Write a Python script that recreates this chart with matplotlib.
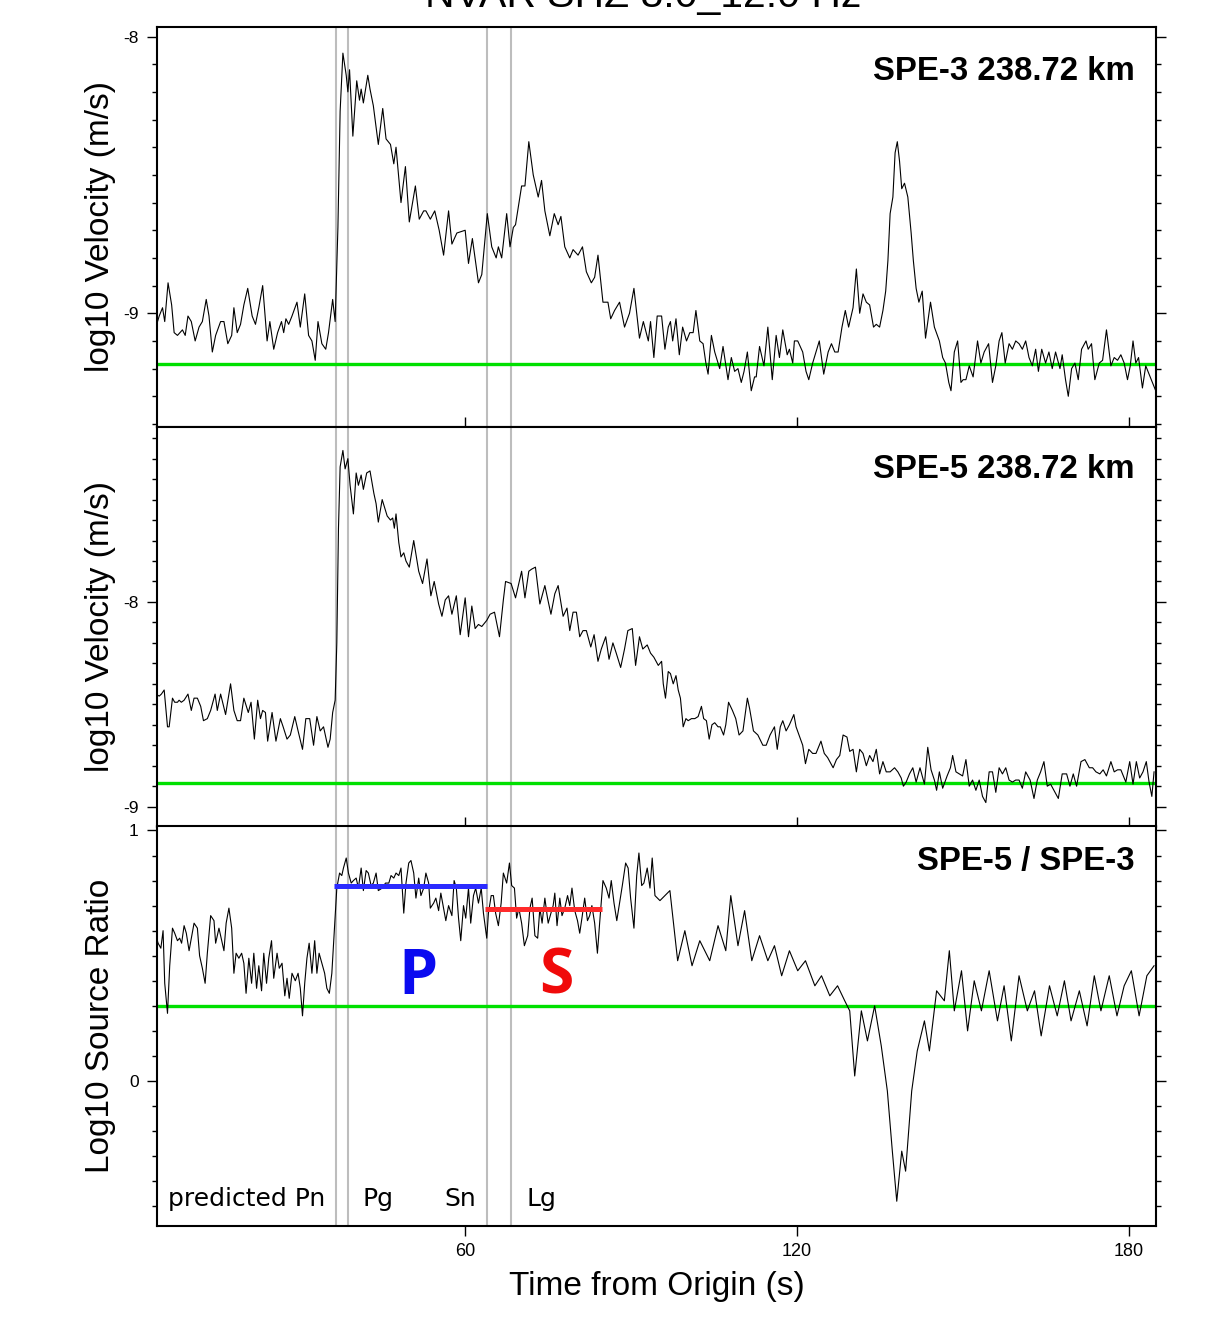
import numpy as np
import matplotlib
matplotlib.use('Agg')
import matplotlib.pyplot as plt
from matplotlib import font_manager
from matplotlib.ticker import MultipleLocator, FixedLocator

plt.rcParams['axes.unicode_minus'] = False

_names = {f.name for f in font_manager.fontManager.ttflist}
BOLD_FONT = 'Open Sans' if 'Open Sans' in _names else 'DejaVu Sans'
SANS = 'Liberation Sans'

# ---- data ---------------------------------------------------------------
TITLE = 'NVAR SHZ 8.0_12.0 Hz'
PANEL_LABELS = ['SPE-3 238.72 km', 'SPE-5 238.72 km', 'SPE-5 / SPE-3']
YLABELS = ['log10 Velocity (m/s)', 'log10 Velocity (m/s)', 'Log10 Source Ratio']
XLABEL = 'Time from Origin (s)'

PHASE_TIMES = [36.6, 38.9, 63.9, 68.25]          # grey marker lines (s)
PHASE_NAMES = ['predicted Pn', 'Pg', 'Sn', 'Lg']
PHASE_NAME_T = [6.3, 41.5, 56.3, 71.0]
PHASE_NAME_Y = -0.50

NOISE_LEVEL = [-9.185, -8.883, 0.30]              # green lines
P_WINDOW = [36.3, 63.9]
P_RATIO = 0.78
S_WINDOW = [63.6, 84.7]
S_RATIO = 0.687
P_LABEL_T, S_LABEL_T, PS_LABEL_Y = 51.5, 76.4, 0.348

XLIM = (4.35, 184.8)
XTICKS = [60, 120, 180]
YLIMS = [(-9.41, -7.966), (-9.098, -7.146), (-0.579, 1.016)]
YTICKS = [[-9, -8], [-9, -8], [0, 1]]

# (time s, log10 velocity) SPE-3
SPE3 = np.array([
    (4.1, -9.05), (4.7, -9.01), (5.3, -8.98), (5.7, -9.03), (6.3, -8.89), (6.95, -8.97),
    (7.4, -9.07), (8.0, -9.08), (8.9, -9.06), (9.4, -9.08), (9.9, -9.01), (10.5, -9.03),
    (11.2, -9.10), (11.9, -9.05), (12.5, -9.03), (13.2, -8.95), (13.7, -9.01), (14.3, -9.14),
    (14.9, -9.08), (15.8, -9.03), (16.4, -9.03), (17.1, -9.11), (17.8, -9.08), (18.2, -8.98),
    (18.8, -9.07), (19.4, -9.04), (20.0, -8.97), (20.7, -8.91), (21.5, -9.01), (22.1, -9.04),
    (22.7, -8.98), (23.4, -8.90), (24.2, -9.10), (24.7, -9.03), (25.4, -9.13), (26.1, -9.07),
    (26.8, -9.03), (27.2, -9.07), (27.6, -9.02), (28.1, -9.04), (28.7, -9.01), (29.6, -8.96),
    (30.2, -9.05), (31.0, -8.93), (31.7, -9.08), (32.3, -9.10), (32.9, -9.17), (33.4, -9.03),
    (34.1, -9.11), (34.8, -9.13), (35.3, -9.07), (36.05, -8.95), (36.5, -9.03), (37.0, -8.69),
    (37.4, -8.27), (37.9, -8.06), (38.5, -8.14), (38.8, -8.20), (39.1, -8.12), (39.7, -8.36),
    (40.4, -8.16), (40.9, -8.23), (41.2, -8.19), (41.6, -8.24), (42.4, -8.14), (42.8, -8.19),
    (43.4, -8.25), (44.3, -8.39), (45.1, -8.26), (45.7, -8.37), (46.5, -8.39), (47.1, -8.46),
    (47.5, -8.40), (48.4, -8.60), (49.2, -8.47), (49.9, -8.67), (51.0, -8.54), (51.7, -8.66),
    (52.5, -8.63), (52.9, -8.63), (53.7, -8.66), (54.5, -8.63), (55.3, -8.70), (56.1, -8.79),
    (57.0, -8.63), (57.6, -8.75), (58.5, -8.71), (60.0, -8.70), (60.6, -8.82), (61.3, -8.73),
    (62.4, -8.89), (63.0, -8.86), (64.0, -8.64), (64.8, -8.76), (65.6, -8.80), (66.0, -8.76),
    (66.6, -8.80), (67.5, -8.64), (68.1, -8.76), (68.7, -8.69), (69.1, -8.68), (70.2, -8.54),
    (70.8, -8.54), (71.5, -8.38), (72.3, -8.50), (73.2, -8.58), (73.8, -8.52), (74.4, -8.63),
    (75.3, -8.72), (76.1, -8.64), (76.8, -8.68), (77.3, -8.65), (78.0, -8.76), (78.9, -8.80),
    (79.5, -8.77), (80.4, -8.79), (81.2, -8.76), (81.9, -8.85), (82.8, -8.89), (83.4, -8.87),
    (84.0, -8.79), (84.9, -8.96), (85.8, -8.96), (86.3, -9.02), (87.0, -8.99), (87.9, -8.96),
    (88.8, -9.05), (89.7, -9.00), (90.5, -8.91), (91.5, -9.09), (92.2, -9.03), (93.1, -9.10),
    (93.5, -9.03), (94.1, -9.16), (94.7, -9.01), (95.5, -9.01), (96.1, -9.13), (96.7, -9.05),
    (97.1, -9.03), (97.5, -9.10), (98.1, -9.02), (98.7, -9.15), (99.3, -9.05), (100.0, -9.10),
    (100.6, -9.07), (101.2, -9.07), (101.7, -8.99), (102.4, -9.10), (103.0, -9.11), (103.5, -9.18),
    (103.9, -9.22), (104.5, -9.08), (105.1, -9.14), (106.0, -9.20), (106.6, -9.12), (107.5, -9.24),
    (108.1, -9.16), (108.7, -9.21), (109.3, -9.20), (109.9, -9.25), (110.4, -9.21), (111.0, -9.14),
    (111.7, -9.28), (112.3, -9.23), (112.6, -9.23), (113.2, -9.12), (114.0, -9.19), (114.7, -9.05),
    (115.5, -9.24), (116.2, -9.08), (116.8, -9.16), (117.4, -9.06), (118.2, -9.15), (118.6, -9.13),
    (119.2, -9.18), (119.5, -9.10), (120.1, -9.10), (121.0, -9.14), (121.6, -9.21), (122.1, -9.24),
    (122.8, -9.18), (123.4, -9.14), (124.0, -9.10), (124.8, -9.22), (125.6, -9.14), (126.2, -9.11),
    (126.8, -9.14), (127.4, -9.14), (128.1, -9.05), (128.7, -8.99), (129.3, -9.05), (130.1, -8.98),
    (130.7, -8.84), (131.3, -9.00), (131.9, -8.93), (132.5, -8.96), (133.1, -8.97), (133.8, -9.05),
    (134.3, -9.04), (134.9, -9.05), (135.5, -8.99), (136.0, -8.92), (136.4, -8.81), (136.8, -8.64),
    (137.3, -8.58), (137.7, -8.42), (138.1, -8.38), (138.5, -8.45), (138.9, -8.55), (139.4, -8.53),
    (140.0, -8.58), (140.6, -8.71), (141.0, -8.81), (141.5, -8.91), (142.0, -8.96), (142.6, -8.92),
    (143.2, -9.09), (144.1, -8.96), (144.8, -9.05), (145.7, -9.10), (146.3, -9.16), (146.8, -9.18),
    (147.4, -9.25), (147.8, -9.28), (148.4, -9.14), (149.0, -9.10), (149.6, -9.25), (150.0, -9.24),
    (150.5, -9.24), (151.1, -9.19), (151.8, -9.23), (152.6, -9.10), (153.2, -9.18), (153.8, -9.14),
    (154.6, -9.11), (155.3, -9.25), (155.9, -9.19), (156.5, -9.10), (157.0, -9.07), (157.6, -9.18),
    (158.3, -9.11), (158.9, -9.13), (159.5, -9.10), (160.1, -9.11), (160.7, -9.13), (161.3, -9.10),
    (161.9, -9.16), (162.5, -9.19), (163.1, -9.13), (163.6, -9.21), (164.2, -9.13), (164.9, -9.18),
    (165.5, -9.14), (166.1, -9.20), (166.7, -9.14), (167.5, -9.20), (167.9, -9.15), (168.5, -9.24),
    (169.0, -9.30), (169.6, -9.20), (170.2, -9.18), (170.8, -9.24), (171.4, -9.13), (172.2, -9.10),
    (172.6, -9.13), (173.2, -9.11), (173.8, -9.24), (174.6, -9.18), (175.2, -9.17), (175.9, -9.06),
    (176.7, -9.19), (177.3, -9.16), (177.9, -9.17), (178.5, -9.15), (179.1, -9.18), (179.7, -9.24),
    (180.2, -9.19), (180.7, -9.10), (181.2, -9.18), (181.7, -9.16), (182.4, -9.27), (183.0, -9.19),
    (183.6, -9.22), (184.2, -9.25), (184.8, -9.28),
])

# (time s, log10 velocity) SPE-5
SPE5 = np.array([
    (4.1, -8.45), (4.7, -8.46), (5.1, -8.45), (5.6, -8.43), (6.2, -8.61), (6.5, -8.61),
    (7.1, -8.47), (7.5, -8.49), (8.0, -8.49), (8.3, -8.48), (8.7, -8.49), (9.2, -8.48),
    (9.9, -8.45), (10.5, -8.53), (11.0, -8.47), (11.6, -8.47), (12.2, -8.51), (12.7, -8.58),
    (13.4, -8.57), (14.0, -8.53), (14.8, -8.45), (15.2, -8.53), (15.8, -8.45), (16.7, -8.55),
    (17.6, -8.40), (18.2, -8.53), (18.8, -8.58), (19.4, -8.58), (20.0, -8.47), (20.8, -8.54),
    (21.3, -8.49), (21.9, -8.67), (22.5, -8.48), (23.0, -8.57), (23.4, -8.53), (23.9, -8.54),
    (24.3, -8.68), (25.1, -8.54), (25.8, -8.68), (26.6, -8.57), (27.1, -8.61), (27.8, -8.67),
    (28.4, -8.65), (29.2, -8.56), (29.8, -8.63), (30.6, -8.72), (31.2, -8.57), (31.9, -8.57),
    (32.6, -8.70), (33.2, -8.56), (33.8, -8.63), (34.4, -8.61), (35.2, -8.71), (35.6, -8.67),
    (36.05, -8.54), (36.5, -8.48), (36.8, -8.20), (37.1, -7.64), (37.4, -7.34), (37.9, -7.26),
    (38.3, -7.35), (38.8, -7.30), (39.2, -7.43), (39.8, -7.57), (40.3, -7.37), (40.7, -7.43),
    (41.2, -7.38), (41.6, -7.45), (42.2, -7.37), (42.8, -7.36), (43.5, -7.47), (43.9, -7.52),
    (44.3, -7.61), (45.0, -7.50), (45.9, -7.58), (46.5, -7.60), (46.9, -7.59), (47.2, -7.64),
    (47.5, -7.57), (48.0, -7.71), (48.4, -7.78), (48.9, -7.76), (49.3, -7.80), (49.9, -7.83),
    (50.7, -7.70), (51.6, -7.85), (52.3, -7.91), (53.1, -7.79), (53.8, -7.97), (54.4, -7.90),
    (55.2, -8.01), (55.8, -8.07), (56.4, -7.99), (57.0, -7.97), (57.6, -8.06), (58.4, -7.97),
    (59.1, -8.16), (60.0, -7.98), (60.6, -8.17), (61.2, -8.02), (61.8, -8.13), (62.4, -8.11),
    (63.0, -8.12), (63.9, -8.09), (64.5, -8.06), (65.3, -8.05), (66.2, -8.17), (66.9, -7.99),
    (67.3, -7.90), (68.3, -7.91), (69.1, -7.98), (69.6, -7.92), (70.2, -7.85), (70.8, -7.98),
    (71.5, -7.85), (72.0, -7.84), (72.7, -7.83), (73.5, -8.01), (74.4, -7.92), (75.5, -8.06),
    (76.2, -7.96), (76.8, -7.92), (77.7, -8.07), (78.4, -8.03), (78.9, -8.14), (79.5, -8.05),
    (80.1, -8.05), (80.7, -8.17), (81.3, -8.14), (81.9, -8.14), (82.7, -8.22), (83.3, -8.16),
    (84.0, -8.29), (84.6, -8.23), (85.4, -8.17), (86.0, -8.28), (86.7, -8.20), (87.3, -8.25),
    (88.1, -8.32), (88.8, -8.23), (89.4, -8.14), (90.2, -8.13), (90.8, -8.31), (91.5, -8.17),
    (92.1, -8.23), (92.9, -8.21), (93.5, -8.25), (94.1, -8.27), (94.9, -8.31), (95.5, -8.29),
    (95.8, -8.40), (96.2, -8.47), (96.7, -8.34), (97.1, -8.35), (97.6, -8.40), (98.1, -8.36),
    (98.5, -8.43), (98.9, -8.47), (99.4, -8.61), (99.9, -8.57), (100.3, -8.58), (100.9, -8.57),
    (101.5, -8.57), (102.1, -8.56), (102.7, -8.51), (103.1, -8.57), (103.6, -8.58), (104.1, -8.67),
    (104.6, -8.60), (105.1, -8.59), (105.7, -8.61), (106.1, -8.61), (106.7, -8.65), (107.1, -8.60),
    (107.6, -8.49), (108.3, -8.53), (108.9, -8.57), (109.5, -8.65), (110.2, -8.63), (111.0, -8.47),
    (111.4, -8.52), (112.1, -8.63), (112.9, -8.65), (113.8, -8.70), (114.4, -8.70), (115.1, -8.65),
    (115.9, -8.61), (116.4, -8.72), (116.95, -8.61), (117.4, -8.58), (118.0, -8.63), (118.6, -8.60),
    (119.4, -8.55), (119.8, -8.61), (120.6, -8.67), (121.0, -8.70), (121.5, -8.79), (122.1, -8.72),
    (122.8, -8.74), (123.4, -8.74), (124.3, -8.68), (124.9, -8.74), (125.5, -8.76), (126.5, -8.81),
    (127.1, -8.77), (127.7, -8.75), (128.3, -8.65), (129.0, -8.66), (129.5, -8.73), (130.1, -8.72),
    (130.7, -8.83), (131.3, -8.72), (131.9, -8.74), (132.5, -8.80), (133.1, -8.75), (133.7, -8.78),
    (134.3, -8.72), (134.9, -8.84), (135.5, -8.78), (136.1, -8.83), (136.8, -8.83), (137.6, -8.81),
    (138.2, -8.83), (138.8, -8.86), (139.2, -8.90), (139.7, -8.88), (140.3, -8.84), (140.9, -8.81),
    (141.5, -8.88), (142.2, -8.81), (143.0, -8.89), (143.6, -8.71), (144.2, -8.82), (144.8, -8.87),
    (145.2, -8.92), (145.7, -8.83), (146.3, -8.91), (147.1, -8.85), (147.7, -8.81), (148.1, -8.75),
    (148.7, -8.83), (149.3, -8.84), (149.9, -8.85), (150.5, -8.77), (151.1, -8.90), (151.7, -8.87),
    (152.3, -8.92), (152.9, -8.87), (153.5, -8.95), (154.1, -8.98), (154.7, -8.83), (155.3, -8.83),
    (155.9, -8.93), (156.5, -8.81), (157.1, -8.84), (157.7, -8.81), (158.3, -8.87), (158.9, -8.88),
    (159.5, -8.87), (160.1, -8.87), (160.7, -8.91), (161.3, -8.83), (162.1, -8.87), (162.8, -8.96),
    (163.4, -8.87), (164.0, -8.83), (164.6, -8.78), (165.2, -8.90), (165.8, -8.89), (166.4, -8.92),
    (167.2, -8.96), (167.9, -8.84), (168.7, -8.84), (169.3, -8.90), (169.9, -8.84), (170.5, -8.90),
    (171.3, -8.78), (172.0, -8.77), (172.8, -8.81), (173.4, -8.81), (174.0, -8.83), (174.7, -8.84),
    (175.3, -8.82), (175.9, -8.85), (176.7, -8.78), (177.3, -8.83), (177.9, -8.82), (178.5, -8.82),
    (179.4, -8.88), (180.1, -8.78), (180.7, -8.89), (181.3, -8.78), (181.9, -8.86), (182.5, -8.83),
    (183.1, -8.78), (183.6, -8.88), (184.1, -8.95), (184.5, -8.83),
])

# (time s, log10 source ratio) SPE-5 / SPE-3
RATIO = np.array([
    (4.1, 0.58), (4.5, 0.55), (5.0, 0.53), (5.4, 0.60), (5.7, 0.39), (6.2, 0.27),
    (6.6, 0.46), (7.1, 0.61), (7.5, 0.59), (8.0, 0.56), (8.4, 0.57), (8.75, 0.55),
    (9.2, 0.62), (9.6, 0.59), (10.1, 0.52), (10.6, 0.58), (11.0, 0.63), (11.6, 0.61),
    (12.0, 0.50), (12.5, 0.45), (13.0, 0.39), (13.4, 0.51), (14.0, 0.66), (14.6, 0.64),
    (14.9, 0.55), (15.5, 0.61), (15.9, 0.57), (16.4, 0.52), (16.8, 0.63), (17.3, 0.69),
    (17.8, 0.61), (18.2, 0.43), (18.6, 0.51), (19.1, 0.49), (19.6, 0.51), (20.0, 0.47),
    (20.4, 0.35), (20.9, 0.49), (21.4, 0.39), (21.8, 0.51), (22.3, 0.37), (22.7, 0.46),
    (23.2, 0.36), (23.6, 0.51), (24.1, 0.39), (24.5, 0.49), (25.0, 0.56), (25.4, 0.41),
    (26.0, 0.51), (26.4, 0.45), (26.9, 0.47), (27.4, 0.34), (27.8, 0.41), (28.2, 0.33),
    (28.7, 0.43), (29.3, 0.40), (29.8, 0.43), (30.2, 0.37), (30.6, 0.26), (31.0, 0.39),
    (31.4, 0.49), (31.8, 0.55), (32.3, 0.43), (32.8, 0.56), (33.2, 0.43), (33.6, 0.51),
    (34.1, 0.47), (34.6, 0.43), (35.0, 0.37), (35.45, 0.35), (35.9, 0.43), (36.4, 0.62),
    (36.8, 0.77), (37.3, 0.83), (37.7, 0.82), (38.0, 0.85), (38.5, 0.89), (38.9, 0.83),
    (39.4, 0.79), (39.8, 0.80), (40.3, 0.81), (40.7, 0.77), (41.2, 0.85), (41.6, 0.76),
    (42.1, 0.84), (42.5, 0.83), (43.0, 0.78), (43.4, 0.79), (43.9, 0.83), (44.3, 0.76),
    (45.0, 0.77), (45.6, 0.79), (46.2, 0.79), (46.6, 0.82), (47.1, 0.81), (47.5, 0.83),
    (48.0, 0.82), (48.4, 0.85), (48.9, 0.67), (49.3, 0.79), (49.8, 0.87), (50.2, 0.88),
    (50.7, 0.83), (51.1, 0.73), (51.6, 0.81), (52.0, 0.74), (52.5, 0.77), (52.9, 0.83),
    (53.4, 0.79), (53.7, 0.69), (54.3, 0.71), (54.7, 0.73), (55.2, 0.68), (55.6, 0.75),
    (56.1, 0.69), (56.5, 0.64), (57.0, 0.70), (57.6, 0.66), (58.0, 0.80), (58.4, 0.77),
    (58.8, 0.65), (59.2, 0.56), (59.7, 0.70), (60.1, 0.65), (60.6, 0.77), (61.0, 0.63),
    (61.5, 0.74), (61.9, 0.77), (62.4, 0.71), (62.9, 0.77), (63.3, 0.67), (63.6, 0.62),
    (63.9, 0.57), (64.2, 0.67), (64.7, 0.74), (65.1, 0.74), (65.5, 0.67), (66.0, 0.62),
    (66.5, 0.71), (66.9, 0.83), (67.5, 0.79), (68.0, 0.87), (68.4, 0.78), (68.9, 0.77),
    (69.3, 0.65), (69.7, 0.69), (70.2, 0.63), (70.7, 0.54), (71.3, 0.58), (71.7, 0.69),
    (72.1, 0.73), (72.6, 0.58), (73.1, 0.57), (73.5, 0.69), (73.9, 0.63), (74.4, 0.73),
    (75.0, 0.63), (75.5, 0.67), (75.9, 0.70), (76.2, 0.75), (76.6, 0.62), (77.1, 0.73),
    (77.5, 0.66), (78.0, 0.69), (78.5, 0.74), (78.9, 0.70), (79.3, 0.77), (79.8, 0.68),
    (80.3, 0.64), (80.7, 0.59), (81.1, 0.65), (81.6, 0.73), (82.1, 0.64), (82.5, 0.66),
    (82.9, 0.70), (83.4, 0.63), (83.9, 0.51), (84.3, 0.63), (84.9, 0.80), (85.5, 0.77),
    (86.0, 0.73), (86.4, 0.80), (86.9, 0.71), (87.4, 0.64), (87.9, 0.71), (88.4, 0.78),
    (89.0, 0.87), (89.45, 0.85), (89.9, 0.73), (90.5, 0.61), (91.0, 0.82), (91.4, 0.91),
    (91.9, 0.78), (92.3, 0.79), (92.9, 0.85), (93.4, 0.77), (93.8, 0.89), (94.3, 0.74),
    (95.2, 0.72), (97.0, 0.76), (98.4, 0.48), (99.7, 0.60), (101.0, 0.46), (102.4, 0.56),
    (104.2, 0.48), (105.7, 0.62), (107.1, 0.52), (108.0, 0.74), (109.3, 0.54), (110.5, 0.68),
    (111.8, 0.48), (113.2, 0.58), (114.7, 0.48), (115.9, 0.54), (117.2, 0.42), (118.6, 0.52),
    (120.1, 0.44), (121.5, 0.48), (123.2, 0.38), (124.4, 0.42), (125.9, 0.34), (127.3, 0.38),
    (128.6, 0.32), (129.5, 0.28), (130.4, 0.02), (131.6, 0.28), (132.7, 0.16), (134.0, 0.30),
    (135.2, 0.14), (136.3, -0.04), (137.2, -0.28), (138.0, -0.48), (138.9, -0.28), (139.6, -0.36),
    (140.7, -0.04), (141.7, 0.12), (143.0, 0.24), (143.9, 0.12), (145.2, 0.36), (146.6, 0.32),
    (147.5, 0.52), (148.4, 0.28), (149.7, 0.44), (150.8, 0.20), (152.0, 0.40), (153.3, 0.28),
    (154.7, 0.44), (156.2, 0.24), (157.4, 0.38), (158.7, 0.16), (160.1, 0.42), (161.6, 0.28),
    (162.9, 0.36), (164.1, 0.18), (165.6, 0.38), (167.0, 0.26), (168.3, 0.40), (169.5, 0.24),
    (171.0, 0.36), (172.4, 0.22), (173.7, 0.42), (174.9, 0.28), (176.4, 0.42), (177.8, 0.26),
    (179.1, 0.38), (180.4, 0.44), (181.8, 0.26), (183.2, 0.42), (184.5, 0.46),
])

TRACES = [SPE3, SPE5, RATIO]

# ---- layout --------------------------------------------------------------
fig = plt.figure(figsize=(12.06, 13.36), dpi=100)
left, width = 0.1304, 0.8279
bottoms = [0.6806, 0.3812, 0.0823]
height = 0.2991

axes = []
for i in range(3):
    ax = fig.add_axes([left, bottoms[i], width, height])
    axes.append(ax)
    tr = TRACES[i]

    for t in PHASE_TIMES:
        ax.axvline(t, color='#bdbdbd', lw=1.5, zorder=1)
    ax.axhline(NOISE_LEVEL[i], color='#00e000', lw=2.4, zorder=2)
    ax.plot(tr[:, 0], tr[:, 1], color='black', lw=0.8, zorder=4)

    ax.set_xlim(*XLIM)
    ax.set_ylim(*YLIMS[i])
    ax.xaxis.set_major_locator(FixedLocator(XTICKS))
    ax.yaxis.set_major_locator(FixedLocator(YTICKS[i]))
    ax.yaxis.set_minor_locator(MultipleLocator(0.1))

    for sp in ax.spines.values():
        sp.set_linewidth(1.5)

    ax.tick_params(axis='y', which='both', direction='out', left=True, right=True,
                   width=1.0, pad=6, labelsize=12.5)
    ax.tick_params(axis='y', which='major', length=7.5)
    ax.tick_params(axis='y', which='minor', length=3.8)
    for lab in ax.get_yticklabels():
        lab.set_family(SANS)

    ax.set_ylabel(YLABELS[i], fontsize=24, family=SANS)
    ax.yaxis.set_label_coords(-0.041, 0.5)

    ax.text(0.979, [0.868, 0.872, 0.892][i], PANEL_LABELS[i], transform=ax.transAxes,
            ha='right', va='baseline', fontsize=23.7, fontweight='bold', family=SANS)

    if i < 2:
        ax.tick_params(axis='x', which='both', direction='in', length=7, width=1.0,
                       labelbottom=False, top=False)
    else:
        ax.tick_params(axis='x', which='both', direction='out', length=7, width=1.0,
                       pad=5, labelsize=13, top=False)
        for lab in ax.get_xticklabels():
            lab.set_family(SANS)
        ax.set_xlabel(XLABEL, fontsize=24, family=SANS)
        ax.xaxis.set_label_coords(0.5, -0.112)

ax = axes[2]
ax.plot(P_WINDOW, [P_RATIO, P_RATIO], color='#2b2bff', lw=3.6, solid_capstyle='butt', zorder=5)
ax.plot(S_WINDOW, [S_RATIO, S_RATIO], color='#ff2b2b', lw=3.6, solid_capstyle='butt', zorder=5)
ax.text(P_LABEL_T, PS_LABEL_Y, 'P', color='#0a0af0', fontsize=45, fontweight='bold',
        family=BOLD_FONT, ha='center', va='baseline')
ax.text(S_LABEL_T, PS_LABEL_Y, 'S', color='#f00a0a', fontsize=45, fontweight='bold',
        family=BOLD_FONT, ha='center', va='baseline')
for name, t in zip(PHASE_NAMES, PHASE_NAME_T):
    ax.text(t, PHASE_NAME_Y, name, fontsize=18, family='DejaVu Sans',
            ha='left', va='baseline')

# the title sits mostly above the top edge, as in the original figure
fig.text(0.533, 0.9948, TITLE, ha='center', va='baseline', fontsize=29.5, family=SANS)

fig.savefig('out.png', dpi=100)
